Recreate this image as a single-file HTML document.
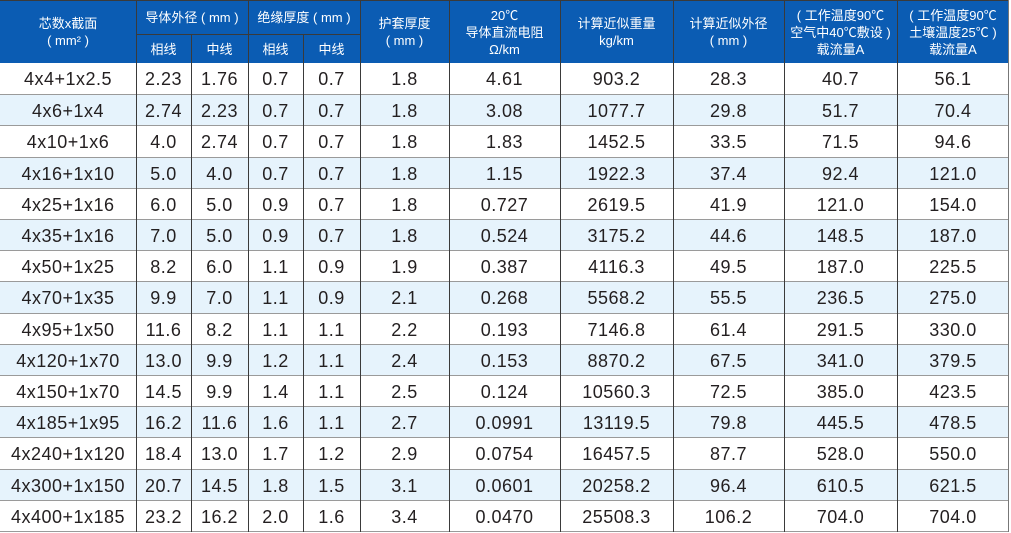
<!DOCTYPE html>
<html><head><meta charset="utf-8"><style>
*{margin:0;padding:0;box-sizing:border-box}
body{width:1011px;height:533px;background:#fff;position:relative;overflow:hidden;font-family:"Liberation Sans","Noto Sans CJK SC",sans-serif}
.hdr{position:absolute;left:0;top:0;width:1009px;height:63px;background:#0b5cb3}
.ht{position:absolute;color:#fff;font-size:13px;line-height:17px;text-align:center;font-family:"Liberation Sans","Noto Sans CJK SC",sans-serif;white-space:nowrap}
.row{position:absolute;left:0;width:1009px;display:flex;border-top:1px solid #9a9a9a;font-size:18px;letter-spacing:0.5px;color:#231f20}
.row span{display:block;text-align:center;padding-top:1px}
.b{background:#e6f3fc}
.w0{width:136px}.w1{width:55px}.w2{width:57px}.w3{width:55px}.w4{width:57px}.w5{width:89px}.w6{width:111px}.w7{width:113px}.w8{width:111px}.w9{width:113px}.w10{width:112px}
.v{position:absolute;width:1px;background:#3a3a3a}
.hl{position:absolute;height:1px;background:#3a3a3a}
</style></head><body>
<div class="hdr"></div>
<div class="hl" style="left:0;top:0;width:1009px"></div>
<div class="hl" style="left:136px;top:34px;width:224px"></div>

<div class="ht" style="left:0;width:136px;top:15px">芯数x截面<br>( mm² )</div>
<div class="ht" style="left:136px;width:112px;top:9px">导体外径 ( mm )</div>
<div class="ht" style="left:248px;width:112px;top:9px">绝缘厚度 ( mm )</div>
<div class="ht" style="left:136px;width:55px;top:41px">相线</div>
<div class="ht" style="left:191px;width:57px;top:41px">中线</div>
<div class="ht" style="left:248px;width:55px;top:41px">相线</div>
<div class="ht" style="left:303px;width:57px;top:41px">中线</div>
<div class="ht" style="left:360px;width:89px;top:15px">护套厚度<br>( mm )</div>
<div class="ht" style="left:449px;width:111px;top:7px">20℃<br>导体直流电阻<br>Ω/km</div>
<div class="ht" style="left:560px;width:113px;top:15px">计算近似重量<br>kg/km</div>
<div class="ht" style="left:673px;width:111px;top:15px">计算近似外径<br>( mm )</div>
<div class="ht" style="left:784px;width:113px;top:7px">( 工作温度90℃<br>空气中40℃敷设 )<br>载流量A</div>
<div class="ht" style="left:897px;width:112px;top:7px">( 工作温度90℃<br>土壤温度25℃ )<br>载流量A</div>

<div class="row" style="top:63px;height:31px;line-height:31px;border-top:none"><span class="w0">4x4+1x2.5</span><span class="w1">2.23</span><span class="w2">1.76</span><span class="w3">0.7</span><span class="w4">0.7</span><span class="w5">1.8</span><span class="w6">4.61</span><span class="w7">903.2</span><span class="w8">28.3</span><span class="w9">40.7</span><span class="w10">56.1</span></div>
<div class="row b" style="top:94px;height:31px;line-height:30px"><span class="w0">4x6+1x4</span><span class="w1">2.74</span><span class="w2">2.23</span><span class="w3">0.7</span><span class="w4">0.7</span><span class="w5">1.8</span><span class="w6">3.08</span><span class="w7">1077.7</span><span class="w8">29.8</span><span class="w9">51.7</span><span class="w10">70.4</span></div>
<div class="row" style="top:125px;height:32px;line-height:30px"><span class="w0">4x10+1x6</span><span class="w1">4.0</span><span class="w2">2.74</span><span class="w3">0.7</span><span class="w4">0.7</span><span class="w5">1.8</span><span class="w6">1.83</span><span class="w7">1452.5</span><span class="w8">33.5</span><span class="w9">71.5</span><span class="w10">94.6</span></div>
<div class="row b" style="top:157px;height:31px;line-height:30px"><span class="w0">4x16+1x10</span><span class="w1">5.0</span><span class="w2">4.0</span><span class="w3">0.7</span><span class="w4">0.7</span><span class="w5">1.8</span><span class="w6">1.15</span><span class="w7">1922.3</span><span class="w8">37.4</span><span class="w9">92.4</span><span class="w10">121.0</span></div>
<div class="row" style="top:188px;height:31px;line-height:30px"><span class="w0">4x25+1x16</span><span class="w1">6.0</span><span class="w2">5.0</span><span class="w3">0.9</span><span class="w4">0.7</span><span class="w5">1.8</span><span class="w6">0.727</span><span class="w7">2619.5</span><span class="w8">41.9</span><span class="w9">121.0</span><span class="w10">154.0</span></div>
<div class="row b" style="top:219px;height:31px;line-height:30px"><span class="w0">4x35+1x16</span><span class="w1">7.0</span><span class="w2">5.0</span><span class="w3">0.9</span><span class="w4">0.7</span><span class="w5">1.8</span><span class="w6">0.524</span><span class="w7">3175.2</span><span class="w8">44.6</span><span class="w9">148.5</span><span class="w10">187.0</span></div>
<div class="row" style="top:250px;height:31px;line-height:30px"><span class="w0">4x50+1x25</span><span class="w1">8.2</span><span class="w2">6.0</span><span class="w3">1.1</span><span class="w4">0.9</span><span class="w5">1.9</span><span class="w6">0.387</span><span class="w7">4116.3</span><span class="w8">49.5</span><span class="w9">187.0</span><span class="w10">225.5</span></div>
<div class="row b" style="top:281px;height:32px;line-height:30px"><span class="w0">4x70+1x35</span><span class="w1">9.9</span><span class="w2">7.0</span><span class="w3">1.1</span><span class="w4">0.9</span><span class="w5">2.1</span><span class="w6">0.268</span><span class="w7">5568.2</span><span class="w8">55.5</span><span class="w9">236.5</span><span class="w10">275.0</span></div>
<div class="row" style="top:313px;height:31px;line-height:30px"><span class="w0">4x95+1x50</span><span class="w1">11.6</span><span class="w2">8.2</span><span class="w3">1.1</span><span class="w4">1.1</span><span class="w5">2.2</span><span class="w6">0.193</span><span class="w7">7146.8</span><span class="w8">61.4</span><span class="w9">291.5</span><span class="w10">330.0</span></div>
<div class="row b" style="top:344px;height:31px;line-height:30px"><span class="w0">4x120+1x70</span><span class="w1">13.0</span><span class="w2">9.9</span><span class="w3">1.2</span><span class="w4">1.1</span><span class="w5">2.4</span><span class="w6">0.153</span><span class="w7">8870.2</span><span class="w8">67.5</span><span class="w9">341.0</span><span class="w10">379.5</span></div>
<div class="row" style="top:375px;height:31px;line-height:30px"><span class="w0">4x150+1x70</span><span class="w1">14.5</span><span class="w2">9.9</span><span class="w3">1.4</span><span class="w4">1.1</span><span class="w5">2.5</span><span class="w6">0.124</span><span class="w7">10560.3</span><span class="w8">72.5</span><span class="w9">385.0</span><span class="w10">423.5</span></div>
<div class="row b" style="top:406px;height:31px;line-height:30px"><span class="w0">4x185+1x95</span><span class="w1">16.2</span><span class="w2">11.6</span><span class="w3">1.6</span><span class="w4">1.1</span><span class="w5">2.7</span><span class="w6">0.0991</span><span class="w7">13119.5</span><span class="w8">79.8</span><span class="w9">445.5</span><span class="w10">478.5</span></div>
<div class="row" style="top:437px;height:32px;line-height:30px"><span class="w0">4x240+1x120</span><span class="w1">18.4</span><span class="w2">13.0</span><span class="w3">1.7</span><span class="w4">1.2</span><span class="w5">2.9</span><span class="w6">0.0754</span><span class="w7">16457.5</span><span class="w8">87.7</span><span class="w9">528.0</span><span class="w10">550.0</span></div>
<div class="row b" style="top:469px;height:31px;line-height:30px"><span class="w0">4x300+1x150</span><span class="w1">20.7</span><span class="w2">14.5</span><span class="w3">1.8</span><span class="w4">1.5</span><span class="w5">3.1</span><span class="w6">0.0601</span><span class="w7">20258.2</span><span class="w8">96.4</span><span class="w9">610.5</span><span class="w10">621.5</span></div>
<div class="row" style="top:500px;height:31px;line-height:30px"><span class="w0">4x400+1x185</span><span class="w1">23.2</span><span class="w2">16.2</span><span class="w3">2.0</span><span class="w4">1.6</span><span class="w5">3.4</span><span class="w6">0.0470</span><span class="w7">25508.3</span><span class="w8">106.2</span><span class="w9">704.0</span><span class="w10">704.0</span></div>
<div class="hl" style="left:0;top:531px;width:1009px;background:#9a9a9a"></div>

<div class="v" style="left:136px;top:0;height:532px"></div>
<div class="v" style="left:191px;top:34px;height:498px"></div>
<div class="v" style="left:248px;top:0;height:532px"></div>
<div class="v" style="left:303px;top:34px;height:498px"></div>
<div class="v" style="left:360px;top:0;height:532px"></div>
<div class="v" style="left:449px;top:0;height:532px"></div>
<div class="v" style="left:560px;top:0;height:532px"></div>
<div class="v" style="left:673px;top:0;height:532px"></div>
<div class="v" style="left:784px;top:0;height:532px"></div>
<div class="v" style="left:897px;top:0;height:532px"></div>
<div class="v" style="left:1008px;top:0;height:532px;background:#777"></div>
</body></html>
